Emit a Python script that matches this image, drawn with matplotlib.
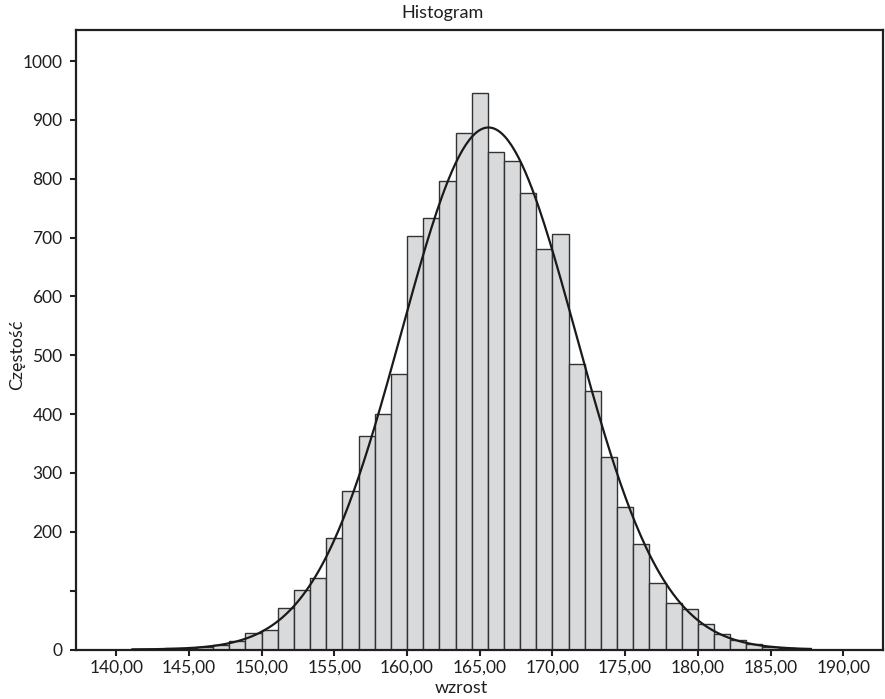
import numpy as np
import matplotlib.pyplot as plt

# histogram of height (wzrost), bins of 10/9 cm starting at 140
bin_start = 140.0
bin_width = 10.0 / 9.0
first_bin = 1
counts = [
    1, 1, 2, 2, 4, 7, 14, 28, 34, 71,
    101, 122, 190, 269, 363, 400, 468, 703, 733, 797,
    877, 945, 845, 831, 776, 681, 706, 486, 440, 328,
    242, 179, 113, 79, 68, 43, 26, 17, 9, 4,
    2, 1,
]

# normal curve parameters
mean_h = 165.6
sd_h = 6.0
n_total = sum(counts)

x_ticks = [140, 145, 150, 155, 160, 165, 170, 175, 180, 185, 190]
x_tick_labels = [f"{v},00" for v in x_ticks]
y_ticks = [0, 100, 200, 300, 400, 500, 600, 700, 800, 900, 1000]
y_tick_labels = ["0", "", "200", "300", "400", "500", "600", "700", "800", "900", "1000"]

plt.rcParams['font.family'] = ['Lato', 'DejaVu Sans']
dark = '#231f20'

fig = plt.figure(figsize=(8.85, 6.99), dpi=100)
ax = fig.add_axes([0.0855, 0.0708, 0.9125, 0.8862])

lefts = bin_start + (np.arange(len(counts)) + first_bin) * bin_width
ax.bar(lefts, counts, width=bin_width, align='edge',
       color='#d9dadc', edgecolor='#333333', linewidth=1.0, zorder=2)

xs = np.linspace(lefts[0], lefts[-1] + bin_width, 400)
ys = n_total * bin_width / (sd_h * np.sqrt(2 * np.pi)) * np.exp(-0.5 * ((xs - mean_h) / sd_h) ** 2)
ax.plot(xs, ys, color='#1a1a1a', linewidth=1.6, zorder=3)

ax.set_xlim(137.21, 192.75)
ax.set_ylim(0, 1052.7)

ax.set_xticks(x_ticks)
ax.set_xticklabels(x_tick_labels)
ax.set_yticks(y_ticks)
ax.set_yticklabels(y_tick_labels)
ax.tick_params(direction='out', length=4.5, width=1.5, color=dark,
               labelsize=12.5, labelcolor='#1e1e1e')
ax.tick_params(axis='y', pad=5)
ax.tick_params(axis='x', pad=3)

for s in ax.spines.values():
    s.set_linewidth(1.6)
    s.set_color(dark)

fig.text(0.5, 1 - 13 / 699, "Histogram", ha='center', va='center',
         fontsize=13, color='#1e1e1e')
fig.text(461 / 885, 1 - 688 / 699, "wzrost", ha='center', va='center',
         fontsize=13, color='#1e1e1e')
fig.text(17 / 885, 1 - 355 / 699, "Częstość", ha='center', va='center',
         rotation=90, fontsize=13, color='#1e1e1e')

fig.savefig('out.png', dpi=100)
